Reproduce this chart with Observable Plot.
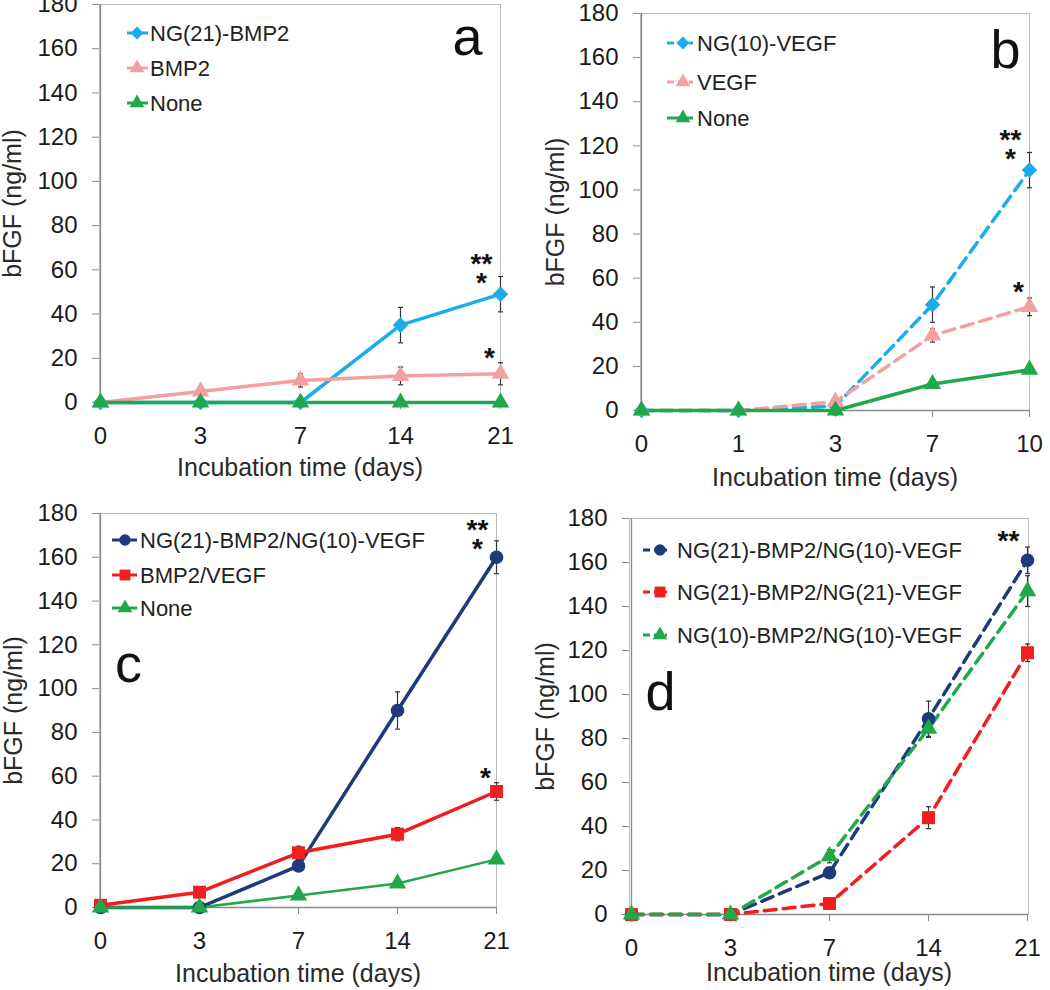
<!DOCTYPE html>
<html><head><meta charset="utf-8">
<script src="https://cdn.jsdelivr.net/npm/d3@7"></script>
<script src="https://cdn.jsdelivr.net/npm/@observablehq/plot@0.6"></script>
<style>
body{margin:0;background:#fff;}
#root{position:relative;width:1050px;height:990px;overflow:hidden;font-family:"Liberation Sans",Arial,sans-serif;}
.panel{position:absolute;}
.panel svg{overflow:visible;}
g[aria-label="x-axis tick"], g[aria-label="y-axis tick"]{stroke:#8a8a8a;}
</style></head><body><div id="root"></div>
<script>
// ---------- data ----------
const yTicks = [0,20,40,60,80,100,120,140,160,180];
const xTitle = "Incubation time (days)";
const yTitle = "bFGF (ng/ml)";

// panel a
const daysA = ["0","3","7","14","21"];
const aNames = ["NG(21)-BMP2","BMP2","None"];
const aNgBmp2 = [0,0,0,35,49];
const aNgBmp2Err = [0,0,0,8,8];
const aBmp2 = [0,5,10,12,13];
const aBmp2Err = [0,0,3,4,5];
const aNone = [0,0,0,0,0];
const aNoneErr = [0,0,0,0,0];
const aStars = [{day:"21", y:57, label:"**\n*"}, {day:"21", y:23.5, label:"*"}];

// panel b
const daysB = ["0","1","3","7","10"];
const bNames = ["NG(10)-VEGF","VEGF","None"];
const bNgVegf = [0,0,2,48,109];
const bNgVegfErr = [0,0,4,8,8];
const bVegf = [0,0,4,34,47];
const bVegfErr = [0,0,2,3,4];
const bNone = [0,0,0,12,18.5];
const bNoneErr = [0,0,0,0,0];
const bStars = [{day:"10", y:117, label:"**\n*"}, {day:"10", y:57, label:"*"}];

// panel c
const daysC = ["0","3","7","14","21"];
const cNames = ["NG(21)-BMP2/NG(10)-VEGF","BMP2/VEGF","None"];
const cCombo = [0,0,19,90,160];
const cComboErr = [0,0,0,8.5,7.5];
const cBmpVegf = [1,7,25,33.5,53];
const cBmpVegfErr = [0,0,3,3,4];
const cNone = [0,0,5.5,11,22];
const cNoneErr = [0,0,0,0,0];
const cStars = [{day:"21", y:167, label:"**\n*"}, {day:"21", y:62.5, label:"*"}];

// panel d
const daysD = ["0","3","7","14","21"];
const dNames = ["NG(21)-BMP2/NG(10)-VEGF","NG(21)-BMP2/NG(21)-VEGF","NG(10)-BMP2/NG(10)-VEGF"];
const d21_10 = [0,0,19,89,161];
const d21_10Err = [0,0,2,8,6];
const d21_21 = [0,0,5,44,119];
const d21_21Err = [0,0,1,5,4];
const d10_10 = [0,0,26.5,84.5,147];
const d10_10Err = [0,0,3,4,7];
const dStars = [{day:"21", y:173, label:"**"}];

// ---------- colours ----------
const cBlue = "#1bacec", cPink = "#f5a0a0", cGreen = "#20a84a", cNavy = "#1c3a7c", cRed = "#f01e1e";

const capSymbol = {draw(ctx, size){ const w = Math.sqrt(size/Math.PI); ctx.moveTo(-w,0); ctx.lineTo(w,0); }};
const symbolMap = {triangle: d3.symbolTriangle, circle: d3.symbolCircle, square: d3.symbolSquare, diamond2: d3.symbolDiamond2};

function buildPanel(cfg) {
  const rows = [];
  cfg.series.forEach((s, si) => s.values.forEach((v, i) => rows.push({si, day: cfg.days[i], value: v, err: s.errs[i]})));
  const errRows = rows.filter(d => d.err > 0);
  const m = cfg.margins;
  const marks = [
    Plot.frame({stroke: "#bcbcbc"}),
    Plot.ruleX([cfg.days[0]], {stroke: "#8a8a8a", strokeWidth: 1.3}),
    Plot.ruleY([0], {stroke: "#8a8a8a", strokeWidth: 1.3}),
    Plot.axisY({ticks: yTicks, tickSize: 7, tickPadding: 15, label: null}),
    Plot.axisX({tickSize: 7, tickPadding: 17, label: null}),
    Plot.text([xTitle], {frameAnchor: "bottom", textAnchor: "middle", lineAnchor: "middle", dy: cfg.xTitleDy, fontSize: 25, fill: "#2a2a2a"}),
    Plot.text([yTitle], {frameAnchor: "left", textAnchor: "middle", lineAnchor: "middle", rotate: -90, dx: cfg.yTitleDx, fontSize: 25, fill: "#2a2a2a"})
  ];
  cfg.series.forEach((s, si) => marks.push(Plot.line(rows.filter(d => d.si === si), {
    x: "day", y: "value", stroke: s.color, strokeWidth: s.width || 3.5,
    strokeDasharray: s.dashed ? "12,7" : undefined
  })));
  marks.push(Plot.ruleX(errRows, {x: "day", y1: d => d.value - d.err, y2: d => d.value + d.err, stroke: "#333", strokeWidth: 1.2}));
  marks.push(Plot.dot(errRows, {x: "day", y: d => d.value + d.err, symbol: capSymbol, r: 2.5, stroke: "#333", strokeWidth: 1.2}));
  marks.push(Plot.dot(errRows, {x: "day", y: d => d.value - d.err, symbol: capSymbol, r: 2.5, stroke: "#333", strokeWidth: 1.2}));
  cfg.series.forEach((s, si) => marks.push(Plot.dot(rows.filter(d => d.si === si), {
    x: "day", y: "value", symbol: s.symbol, r: s.r, fill: s.color, stroke: "none"
  })));
  const dbl = cfg.stars.filter(d => d.label.length > 1);
  const sgl = cfg.stars.filter(d => d.label.length === 1);
  marks.push(Plot.text(dbl, {x: "day", y: "y", text: "label", lineAnchor: "bottom", lineHeight: 0.68, fontSize: 28, fontWeight: "bold", fill: "#111", dx: -19, dy: 16}));
  marks.push(Plot.text(sgl, {x: "day", y: "y", text: "label", lineAnchor: "bottom", fontSize: 28, fontWeight: "bold", fill: "#111", dx: -11, dy: 16}));
  marks.push(Plot.text([cfg.letter], {frameAnchor: cfg.letterAnchor, textAnchor: "middle", lineAnchor: "middle", dx: cfg.letterDx, dy: cfg.letterDy, fontSize: 54, fill: "#111"}));

  const svg = Plot.plot({
    width: cfg.width, height: cfg.height,
    marginTop: m[0], marginRight: m[1], marginBottom: m[2], marginLeft: m[3],
    style: {fontFamily: "'Liberation Sans', Arial, sans-serif", fontSize: "24px", color: "#1a1a1a", background: "transparent", overflow: "visible"},
    x: {type: "point", domain: cfg.days, padding: 0},
    y: {domain: [0, 180]},
    marks
  });

  // legend
  const L = cfg.legend;
  const g = d3.select(svg).append("g").attr("text-anchor", "start");
  cfg.series.forEach((s, i) => {
    const y = L.ys[i];
    g.append("line").attr("x1", L.x0).attr("x2", L.x1).attr("y1", y).attr("y2", y)
      .attr("stroke", s.color).attr("stroke-width", 3)
      .attr("stroke-dasharray", s.dashed ? "7,4" : null);
    g.append("path").attr("d", d3.symbol(symbolMap[s.symbol], Math.PI * s.r * s.r * 0.7)())
      .attr("transform", `translate(${L.xm},${y})`).attr("fill", s.color);
    g.append("text").attr("x", L.xt).attr("y", y).attr("dy", "0.36em").attr("text-anchor", "start")
      .attr("font-size", 22).attr("fill", "#222").text(s.name);
  });

  const div = document.createElement("div");
  div.className = "panel";
  div.style.left = cfg.left + "px";
  div.style.top = cfg.top + "px";
  div.appendChild(svg);
  document.getElementById("root").appendChild(div);
}

buildPanel({
  left: 0, top: 0, width: 520, height: 490, margins: [4, 20, 88, 99],
  days: daysA, xTitleDy: 65, yTitleDx: -87,
  series: [
    {name: aNames[0], values: aNgBmp2, errs: aNgBmp2Err, color: cBlue, symbol: "diamond2", r: 7},
    {name: aNames[1], values: aBmp2, errs: aBmp2Err, color: cPink, symbol: "triangle", r: 6.5},
    {name: aNames[2], values: aNone, errs: aNoneErr, color: cGreen, symbol: "triangle", r: 6.5}
  ],
  stars: aStars, letter: "a", letterAnchor: "top-right", letterDx: -33, letterDy: 33,
  legend: {x0: 127, x1: 148, xm: 137, xt: 150, ys: [33, 68, 103]}
});

buildPanel({
  left: 520, top: 0, width: 530, height: 490, margins: [13, 21, 80, 120],
  days: daysB, xTitleDy: 67, yTitleDx: -85,
  series: [
    {name: bNames[0], values: bNgVegf, errs: bNgVegfErr, color: cBlue, symbol: "diamond2", r: 7, dashed: true},
    {name: bNames[1], values: bVegf, errs: bVegfErr, color: cPink, symbol: "triangle", r: 6.5, dashed: true},
    {name: bNames[2], values: bNone, errs: bNoneErr, color: cGreen, symbol: "triangle", r: 6.5}
  ],
  stars: bStars, letter: "b", letterAnchor: "top-right", letterDx: -24, letterDy: 37,
  legend: {x0: 147, x1: 173, xm: 163, xt: 177, ys: [43, 82, 118]}
});

buildPanel({
  left: 0, top: 490, width: 520, height: 500, margins: [23, 24, 83, 99],
  days: daysC, xTitleDy: 66, yTitleDx: -86,
  series: [
    {name: cNames[0], values: cCombo, errs: cComboErr, color: cNavy, symbol: "circle", r: 6.8},
    {name: cNames[1], values: cBmpVegf, errs: cBmpVegfErr, color: cRed, symbol: "square", r: 7.3},
    {name: cNames[2], values: cNone, errs: cNoneErr, color: cGreen, symbol: "triangle", r: 6.5, width: 2.5}
  ],
  stars: cStars, letter: "c", letterAnchor: "top-left", letterDx: 29, letterDy: 151,
  legend: {x0: 112, x1: 137, xm: 125, xt: 140, ys: [50, 85, 118]}
});

buildPanel({
  left: 520, top: 490, width: 530, height: 500, margins: [28, 22, 76, 109],
  days: daysD, xTitleDy: 58, yTitleDx: -84,
  series: [
    {name: dNames[0], values: d21_10, errs: d21_10Err, color: cNavy, symbol: "circle", r: 6.8, dashed: true},
    {name: dNames[1], values: d21_21, errs: d21_21Err, color: cRed, symbol: "square", r: 7.3, dashed: true},
    {name: dNames[2], values: d10_10, errs: d10_10Err, color: cGreen, symbol: "triangle", r: 6.5, dashed: true}
  ],
  stars: dStars, letter: "d", letterAnchor: "top-left", letterDx: 31, letterDy: 174,
  legend: {x0: 123, x1: 147, xm: 140, xt: 157, ys: [60, 102, 145]}
});
</script></body></html>
